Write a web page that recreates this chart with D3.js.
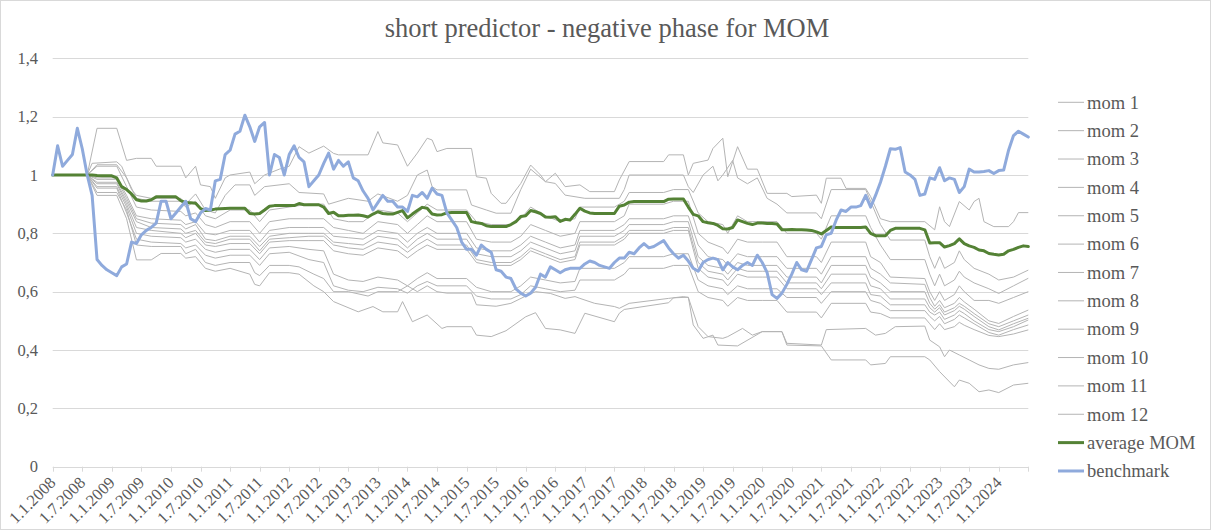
<!DOCTYPE html>
<html><head><meta charset="utf-8">
<script src="https://cdn.jsdelivr.net/npm/d3@7/dist/d3.min.js"></script>
<style>body{margin:0;background:#fff}svg{display:block}</style>
</head><body><svg id="c" width="1211" height="530"></svg>
<script>
// ---------- DATA ----------
const title = "short predictor - negative phase for MOM";
const categories = d3.range(199).map(i => `1.${i % 12 + 1}.${2008 + Math.floor(i / 12)}`);
const tickLabels = ["1.1.2008","1.7.2008","1.1.2009","1.7.2009","1.1.2010","1.7.2010","1.1.2011","1.7.2011","1.1.2012","1.7.2012","1.1.2013","1.7.2013","1.1.2014","1.7.2014","1.1.2015","1.7.2015","1.1.2016","1.7.2016","1.1.2017","1.7.2017","1.1.2018","1.7.2018","1.1.2019","1.7.2019","1.1.2020","1.7.2020","1.1.2021","1.7.2021","1.1.2022","1.7.2022","1.1.2023","1.7.2023","1.1.2024"];
const yTickValues = [0,0.2,0.4,0.6,0.8,1.0,1.2,1.4];

const benchmark = [1.00,1.10,1.03,1.05,1.07,1.16,1.09,1.00,0.93,0.71,
0.69,0.675,0.665,0.655,0.685,0.695,0.77,0.765,0.795,0.81,
0.82,0.835,0.91,0.91,0.85,0.87,0.89,0.91,0.85,0.84,
0.87,0.885,0.88,0.98,0.985,1.07,1.085,1.14,1.15,1.205,
1.165,1.115,1.165,1.18,1.00,1.07,1.06,1.00,1.07,1.10,
1.06,1.045,0.96,0.98,1.00,1.04,1.075,1.02,1.05,1.03,
1.045,0.99,0.98,0.945,0.92,0.88,0.905,0.93,0.91,0.91,
0.89,0.89,0.875,0.93,0.925,0.94,0.92,0.955,0.935,0.93,
0.87,0.845,0.82,0.77,0.745,0.745,0.725,0.76,0.745,0.735,
0.675,0.67,0.65,0.645,0.61,0.595,0.585,0.595,0.615,0.66,
0.65,0.685,0.675,0.665,0.675,0.68,0.68,0.68,0.695,0.705,
0.70,0.69,0.685,0.68,0.70,0.715,0.715,0.735,0.73,0.75,
0.765,0.75,0.755,0.765,0.775,0.75,0.73,0.715,0.725,0.705,
0.68,0.67,0.70,0.71,0.715,0.71,0.675,0.70,0.685,0.675,
0.69,0.70,0.69,0.725,0.70,0.665,0.59,0.577,0.595,0.625,
0.66,0.70,0.675,0.67,0.71,0.75,0.755,0.795,0.80,0.845,
0.88,0.875,0.89,0.89,0.895,0.93,0.89,0.93,0.975,1.03,
1.09,1.088,1.094,1.01,1.00,0.985,0.93,0.935,0.99,0.985,
1.025,0.98,0.99,0.985,0.94,0.96,1.02,1.01,1.01,1.012,
1.015,1.005,1.015,1.017,1.085,1.135,1.15,1.14,1.13];

const averageMOM = [1,1,1,1,1,1,1,1,1,0.998,
0.997,0.997,0.997,0.99,0.96,0.95,0.935,0.915,0.911,0.911,
0.915,0.925,0.925,0.925,0.925,0.925,0.912,0.905,0.905,0.903,
0.885,0.878,0.88,0.883,0.884,0.885,0.886,0.886,0.886,0.886,
0.868,0.866,0.868,0.88,0.893,0.895,0.895,0.895,0.895,0.895,
0.902,0.898,0.898,0.898,0.898,0.89,0.868,0.872,0.86,0.86,
0.862,0.862,0.863,0.86,0.856,0.866,0.874,0.868,0.866,0.866,
0.872,0.878,0.853,0.866,0.878,0.889,0.886,0.866,0.863,0.864,
0.87,0.871,0.871,0.871,0.871,0.84,0.836,0.834,0.826,0.823,
0.823,0.823,0.823,0.83,0.84,0.858,0.86,0.878,0.874,0.868,
0.856,0.855,0.857,0.841,0.848,0.846,0.865,0.886,0.876,0.87,
0.868,0.868,0.868,0.868,0.868,0.893,0.897,0.907,0.909,0.909,
0.909,0.909,0.909,0.909,0.909,0.917,0.918,0.918,0.918,0.89,
0.865,0.86,0.84,0.836,0.834,0.827,0.816,0.815,0.82,0.846,
0.84,0.834,0.83,0.835,0.835,0.834,0.834,0.832,0.812,0.812,
0.813,0.812,0.812,0.811,0.81,0.805,0.798,0.81,0.822,0.82,
0.82,0.82,0.82,0.82,0.82,0.822,0.8,0.792,0.792,0.792,
0.81,0.817,0.817,0.817,0.817,0.817,0.817,0.812,0.767,0.768,
0.768,0.753,0.758,0.765,0.781,0.765,0.757,0.752,0.743,0.74,
0.731,0.728,0.726,0.728,0.74,0.745,0.752,0.757,0.755];

// grey series, read as [month index, value] vertices
const mom1 = [[0,1],[7,1],[9,1.16],[13,1.16],[15,1.05],[17,1.057],[20,1.057],[21,1.03],[26,1.03],[27,0.99],[29,1.03],[30,0.966],[32,0.96],[33,0.92],[35,0.99],[36,1.0],[40,1.01],[41,0.97],[43,1.0],[46,1.02],[48,1.03],[50,1.097],[52,1.075],[55,1.099],[57,1.074],[58,1.069],[64,1.069],[66,1.149],[67,1.11],[70,1.103],[72,1.03],[74,1.075],[76,1.126],[77,1.12],[78,1.08],[80,1.091],[85,1.091],[86,0.994],[88,0.989],[89,0.937],[91,0.903],[92,0.903],[95,0.971],[97,1.034],[99,1.0],[100,0.977],[102,1.006],[104,0.96],[107,0.966],[109,0.943],[114,0.943],[115,0.983],[117,1.046],[124,1.046],[125,1.069],[128,1.069],[129,1.0],[130,1.04],[133,1.051],[134,1.091],[136,1.126],[137,0.994],[139,1.097],[141,1.02],[143,1.02],[145,0.937],[149,0.937],[150,0.926],[155,0.931],[156,0.903],[157,0.989],[160,0.989],[161,0.954],[165,0.954],[166,0.926],[168,0.85],[170,0.84],[177,0.84],[179,0.812],[180,0.891],[181,0.84],[182,0.823],[184,0.909],[186,0.88],[187,0.909],[188,0.92],[189,0.84],[191,0.823],[194,0.823],[195,0.84],[196,0.871],[198,0.871]];
const mom2 = [[0,1],[7,1],[8,1.04],[13,1.045],[14,1.03],[16,0.95],[17,0.93],[20,0.92],[26,0.92],[27,0.9],[29,0.935],[31,0.88],[33,0.87],[35,0.93],[37,0.966],[40,0.966],[41,0.93],[43,0.96],[48,0.97],[50,0.94],[55,0.935],[56,0.90],[60,0.92],[64,0.91],[66,0.935],[70,0.91],[72,0.93],[74,1.0],[76,1.017],[77,0.96],[78,0.949],[84,0.949],[85,0.897],[88,0.88],[90,0.869],[93,0.869],[95,0.95],[97,1.02],[100,0.977],[102,0.971],[104,0.931],[108,0.92],[115,0.92],[116,0.95],[117,1.0],[128,1.0],[129,0.96],[130,0.94],[132,1.0],[134,1.03],[135,0.98],[136,1.0],[138,1.05],[139,0.99],[141,0.97],[143,0.99],[145,0.92],[147,0.90],[149,0.87],[155,0.87],[156,0.85],[158,0.95],[165,0.95],[166,0.91],[168,0.83],[170,0.777],[177,0.777],[178,0.72],[179,0.68],[180,0.72],[181,0.68],[183,0.70],[184,0.74],[185,0.71],[187,0.68],[190,0.66],[192,0.64],[195,0.65],[198,0.674]];

// middle series share these vertex months
const midMonths = [0,7,9,13,15,17,20,26,27,29,31,33,36,40,42,44,48,52,55,57,60,63,66,70,72,74,76,78,84,86,89,93,95,97,100,103,106,107,114,116,117,124,126,129,131,133,136,137,139,141,144,147,149,155,156,158,165,166,168,170,177,178,179,180,181,183,184,185,187,190,192,195,198];
const mom3 = [1,1,1.035,1.035,0.99,0.92,0.91,0.91,0.89,0.91, 0.86,0.85,0.88,0.88,0.84,0.88,0.89,0.90,0.90,0.85, 0.84,0.84,0.88,0.87,0.84,0.87,0.90,0.88,0.88,0.84, 0.83,0.83,0.85,0.89,0.86,0.84,0.85,0.89,0.89,0.91, 0.94,0.94,0.95,0.95,0.87,0.84,0.83,0.80,0.86,0.84, 0.84,0.84,0.80,0.80,0.78,0.86,0.86,0.82,0.76,0.71, 0.71,0.66,0.62,0.66,0.62,0.64,0.67,0.65,0.63,0.61, 0.594,0.62,0.646];
const mom4 = [1,1,1.03,1.03,0.96,0.89,0.88,0.875,0.86,0.87, 0.83,0.82,0.84,0.84,0.80,0.84,0.85,0.85,0.85,0.82, 0.81,0.80,0.84,0.83,0.80,0.83,0.86,0.84,0.84,0.78, 0.77,0.77,0.79,0.83,0.81,0.79,0.80,0.84,0.84,0.86, 0.90,0.90,0.91,0.91,0.80,0.77,0.75,0.73,0.78,0.77, 0.77,0.77,0.72,0.72,0.70,0.77,0.77,0.72,0.70,0.65, 0.645,0.60,0.57,0.60,0.57,0.59,0.62,0.60,0.57,0.57, 0.56,0.58,0.60];
const mom5 = [1,1,0.99,0.99,0.93,0.86,0.85,0.845,0.83,0.84, 0.80,0.795,0.81,0.81,0.77,0.81,0.82,0.82,0.82,0.79, 0.785,0.78,0.81,0.80,0.77,0.80,0.82,0.80,0.80,0.75, 0.74,0.74,0.76,0.79,0.77,0.75,0.76,0.81,0.81,0.83, 0.85,0.85,0.86,0.86,0.76,0.72,0.71,0.69,0.73,0.72, 0.72,0.72,0.68,0.68,0.66,0.72,0.72,0.68,0.66,0.63, 0.625,0.58,0.55,0.57,0.545,0.56,0.58,0.565,0.54,0.50, 0.491,0.515,0.537];
const mom6 = [1,1,0.985,0.985,0.92,0.85,0.835,0.83,0.815,0.83, 0.78,0.775,0.79,0.79,0.755,0.79,0.80,0.80,0.80,0.77, 0.765,0.76,0.79,0.78,0.75,0.78,0.80,0.78,0.78,0.73, 0.72,0.72,0.74,0.77,0.75,0.73,0.74,0.79,0.79,0.81, 0.83,0.83,0.84,0.84,0.72,0.69,0.68,0.66,0.70,0.69, 0.69,0.69,0.65,0.65,0.63,0.69,0.69,0.65,0.63,0.60, 0.60,0.56,0.54,0.555,0.53,0.545,0.56,0.55,0.525,0.49, 0.48,0.50,0.52];
const mom7 = [1,1,0.975,0.975,0.91,0.84,0.82,0.815,0.80,0.81, 0.77,0.765,0.78,0.78,0.74,0.78,0.785,0.79,0.79,0.76, 0.75,0.745,0.77,0.76,0.735,0.76,0.78,0.76,0.76,0.71, 0.70,0.70,0.72,0.75,0.73,0.71,0.72,0.77,0.77,0.79, 0.81,0.81,0.82,0.82,0.70,0.67,0.66,0.64,0.68,0.67, 0.67,0.67,0.63,0.63,0.61,0.66,0.66,0.62,0.61,0.575, 0.575,0.545,0.53,0.545,0.52,0.535,0.55,0.54,0.515,0.48, 0.469,0.49,0.509];
const mom8 = [1,1,0.97,0.97,0.90,0.82,0.81,0.80,0.785,0.80, 0.76,0.755,0.765,0.765,0.73,0.77,0.775,0.775,0.775,0.74, 0.73,0.725,0.75,0.74,0.715,0.74,0.76,0.745,0.745,0.70, 0.69,0.69,0.71,0.74,0.72,0.70,0.71,0.76,0.76,0.78, 0.80,0.80,0.81,0.81,0.68,0.65,0.64,0.62,0.66,0.65, 0.65,0.65,0.61,0.61,0.59,0.63,0.63,0.59,0.585,0.555, 0.555,0.53,0.52,0.53,0.505,0.52,0.535,0.525,0.50,0.47, 0.463,0.48,0.503];
const mom9 = [1,1,0.96,0.96,0.89,0.80,0.79,0.785,0.77,0.78, 0.745,0.735,0.745,0.745,0.71,0.75,0.755,0.745,0.74,0.66, 0.64,0.635,0.65,0.64,0.62,0.645,0.665,0.645,0.645,0.615, 0.60,0.60,0.62,0.65,0.64,0.63,0.635,0.68,0.68,0.70, 0.72,0.72,0.73,0.73,0.64,0.62,0.61,0.59,0.62,0.61, 0.61,0.61,0.58,0.58,0.56,0.60,0.60,0.57,0.56,0.535, 0.535,0.515,0.50,0.515,0.49,0.505,0.52,0.51,0.49,0.46, 0.451,0.47,0.486];
const mom10 = [1,1,0.955,0.955,0.87,0.78,0.77,0.765,0.75,0.76, 0.725,0.715,0.725,0.725,0.69,0.73,0.735,0.71,0.70,0.62, 0.605,0.60,0.615,0.61,0.595,0.62,0.635,0.62,0.62,0.585, 0.575,0.575,0.59,0.62,0.61,0.60,0.605,0.64,0.64,0.66, 0.68,0.68,0.69,0.69,0.60,0.58,0.57,0.55,0.58,0.57, 0.57,0.57,0.53,0.53,0.51,0.56,0.56,0.53,0.525,0.51, 0.51,0.49,0.47,0.49,0.47,0.48,0.495,0.485,0.47,0.45, 0.446,0.455,0.469];

const mom11 = [[0,1],[7,1],[9,0.94],[13,0.94],[15,0.88],[17,0.76],[20,0.755],[26,0.755],[27,0.73],[29,0.745],[31,0.70],[33,0.69],[36,0.70],[40,0.70],[41,0.665],[42,0.655],[44,0.69],[48,0.69],[50,0.685],[53,0.66],[55,0.645],[57,0.60],[60,0.60],[64,0.585],[66,0.60],[70,0.60],[72,0.62],[74,0.60],[76,0.62],[78,0.60],[80,0.595],[85,0.595],[86,0.555],[90,0.55],[93,0.56],[96,0.585],[98,0.60],[101,0.594],[104,0.577],[106,0.583],[107,0.577],[110,0.56],[114,0.549],[115,0.543],[117,0.56],[125,0.577],[128,0.583],[129,0.58],[131,0.48],[133,0.446],[136,0.44],[137,0.446],[140,0.474],[142,0.451],[144,0.463],[148,0.463],[149,0.423],[156,0.417],[157,0.47],[165,0.474],[167,0.451],[169,0.457],[171,0.48],[177,0.482],[178,0.434],[180,0.411],[181,0.377],[182,0.40],[184,0.383],[186,0.366],[188,0.349],[190,0.337],[192,0.334],[195,0.349],[198,0.357]];
const mom12 = [[0,1],[7,1],[9,0.93],[13,0.93],[15,0.85],[17,0.709],[20,0.709],[22,0.731],[26,0.731],[27,0.715],[29,0.72],[31,0.68],[33,0.67],[36,0.68],[40,0.66],[41,0.625],[42,0.62],[44,0.665],[48,0.665],[50,0.66],[53,0.62],[55,0.60],[57,0.566],[62,0.531],[65,0.549],[67,0.531],[70,0.531],[71,0.566],[73,0.497],[76,0.52],[79,0.474],[80,0.48],[85,0.48],[86,0.451],[89,0.446],[92,0.466],[96,0.514],[98,0.528],[100,0.474],[103,0.469],[106,0.457],[108,0.526],[114,0.497],[115,0.526],[116,0.539],[125,0.562],[126,0.579],[129,0.581],[130,0.486],[132,0.44],[134,0.451],[135,0.417],[139,0.414],[144,0.463],[148,0.463],[149,0.417],[156,0.414],[158,0.366],[165,0.366],[166,0.349],[169,0.354],[170,0.377],[177,0.377],[178,0.366],[180,0.326],[183,0.274],[184,0.297],[186,0.286],[188,0.257],[190,0.263],[192,0.254],[195,0.28],[198,0.286]];

const momPairs = [mom1, mom2,
  ...[mom3,mom4,mom5,mom6,mom7,mom8,mom9,mom10].map(s => midMonths.map((m, k) => [m, s[k]])),
  mom11, mom12];
const legendNames = ["mom 1","mom 2","mom 3","mom 4","mom 5","mom 6","mom 7","mom 8","mom 9","mom 10","mom 11","mom 12","average MOM","benchmark"];

// ---------- STYLE ----------
const W = 1211, H = 530;
const plot = {left: 52.7, right: 1028.3, top: 58.3, bottom: 466.7};
const grey = "#b4b4b4", green = "#548235", blue = "#8faadc", gridC = "#d9d9d9";
const FONT = '"Liberation Serif","Times New Roman","DejaVu Serif",serif';

const svg = d3.select("#c").attr("font-family", FONT);
svg.append("rect").attr("x",0.5).attr("y",0.5).attr("width",W-1).attr("height",H-1)
  .attr("fill","#fff").attr("stroke","#d9d9d9");

const x = d3.scaleLinear().domain([0, categories.length - 1]).range([plot.left, plot.right]);
const y = d3.scaleLinear().domain([0, 1.4]).range([plot.bottom, plot.top]);

svg.append("text").attr("x", 607).attr("y", 37).attr("text-anchor","middle")
  .attr("fill","#595959").style("font-size","26.5px").text(title);

const fmt = v => d3.format("~g")(+v.toFixed(1)).replace(".", ",");
svg.append("g").selectAll("line").data(yTickValues).join("line")
  .attr("x1", plot.left).attr("x2", plot.right)
  .attr("y1", d => Math.round(y(d)) + 0.5).attr("y2", d => Math.round(y(d)) + 0.5)
  .attr("stroke", gridC).attr("stroke-width", 1);
svg.append("g").selectAll("text").data(yTickValues).join("text")
  .attr("x", 38).attr("y", d => y(d)).attr("dy","0.34em").attr("text-anchor","end")
  .attr("fill","#595959").style("font-size","16.5px").text(fmt);

const tickIdx = d3.range(0, categories.length, 6);
svg.append("g").selectAll("line").data(tickIdx).join("line")
  .attr("x1", d => Math.round(x(d)) + 0.5).attr("x2", d => Math.round(x(d)) + 0.5)
  .attr("y1", plot.bottom).attr("y2", plot.bottom + 5)
  .attr("stroke", gridC);
svg.append("g").selectAll("text").data(tickLabels).join("text")
  .attr("text-anchor","end").attr("fill","#595959")
  .attr("transform", d => `translate(${x(categories.indexOf(d)) + 4},${plot.bottom + 17}) rotate(-45)`)
  .style("font-size","16.5px").text(d => d);

const pairLine = d3.line().x(d => x(d[0])).y(d => y(d[1]));
svg.append("g").selectAll("path").data(momPairs).join("path")
  .attr("d", pairLine).attr("fill","none").attr("stroke", grey).attr("stroke-width", 1)
  .attr("stroke-linejoin","round");
const mLine = d3.line().x((d, i) => x(i)).y(d => y(d));
svg.append("path").datum(averageMOM).attr("d", mLine).attr("fill","none")
  .attr("stroke", green).attr("stroke-width", 3).attr("stroke-linejoin","round").attr("stroke-linecap","round");
svg.append("path").datum(benchmark).attr("d", mLine).attr("fill","none")
  .attr("stroke", blue).attr("stroke-width", 3).attr("stroke-linejoin","round").attr("stroke-linecap","round");

const lg = svg.append("g").selectAll("g").data(legendNames).join("g")
  .attr("transform", (d, i) => `translate(0,${102.3 + i * 28.36})`);
lg.append("line").attr("x1", 1058).attr("x2", 1084).attr("y1", 0).attr("y2", 0)
  .attr("stroke", (d, i) => i < 12 ? grey : (i === 12 ? green : blue))
  .attr("stroke-width", (d, i) => i < 12 ? 1 : 3);
lg.append("text").attr("x", 1087).attr("y", 0).attr("dy","0.34em").attr("fill","#595959")
  .style("font-size","18.5px").text(d => d);
</script>
</body></html>
